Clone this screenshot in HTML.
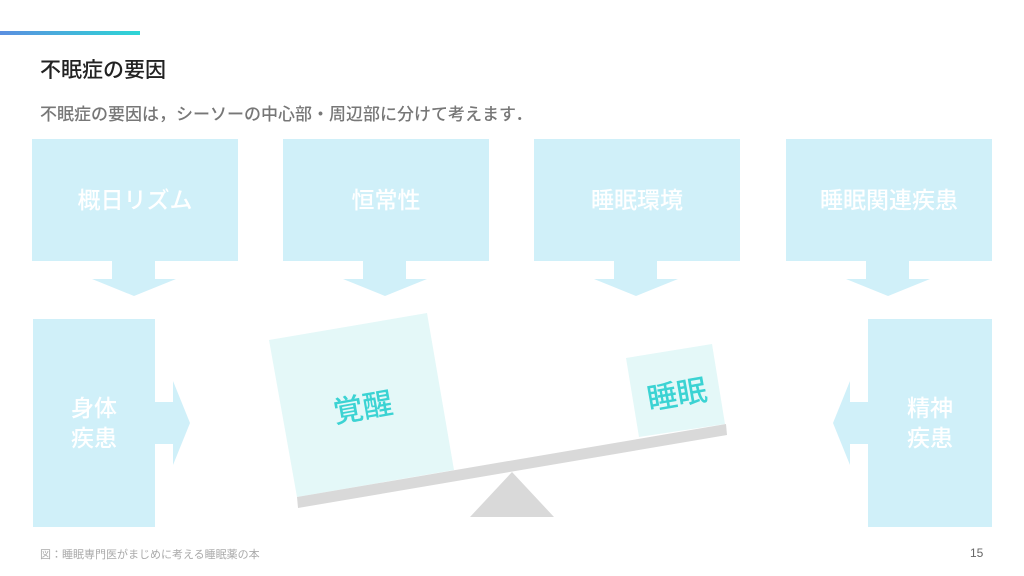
<!DOCTYPE html>
<html><head><meta charset="utf-8"><style>
body{margin:0;width:1024px;height:576px;background:#fff;position:relative;overflow:hidden;font-family:"Liberation Sans","Noto Sans CJK JP",sans-serif}
.a{position:absolute}
.box{position:absolute;background:#d0f0f9;color:#fff;font-weight:500;font-size:23px;display:flex;align-items:center;justify-content:center;text-align:center;line-height:30px}
</style></head><body>
<div class="a" style="left:0;top:31px;width:140px;height:4px;background:linear-gradient(90deg,#5b8fe0,#2dd6d6)"></div>
<div class="a" style="left:40px;top:54px;font-size:21px;font-weight:500;color:#222">不眠症の要因</div>
<div class="a" style="left:40px;top:100px;font-size:17px;font-weight:500;color:#777">不眠症の要因は，シーソーの中心部・周辺部に分けて考えます．</div>
<div class="box" style="left:32px;top:139px;width:206px;height:122px">概日リズム</div>
<div class="box" style="left:283px;top:139px;width:206px;height:122px">恒常性</div>
<div class="box" style="left:534px;top:139px;width:206px;height:122px">睡眠環境</div>
<div class="box" style="left:786px;top:139px;width:206px;height:122px">睡眠関連疾患</div>
<div class="box" style="left:33px;top:319px;width:122px;height:208px">身体<br>疾患</div>
<div class="box" style="left:868px;top:319px;width:124px;height:208px">精神<br>疾患</div>
<svg class="a" style="left:0;top:0" width="1024" height="576">
<g fill="#d0f0f9">
<polygon points="112,261 155,261 155,279 176,279 134,296 92,279 112,279"/>
<polygon points="363,261 406,261 406,279 427,279 385,296 343,279 363,279"/>
<polygon points="614,261 657,261 657,279 678,279 636,296 594,279 614,279"/>
<polygon points="866,261 909,261 909,279 930,279 888,296 846,279 866,279"/>
<polygon points="155,402 173,402 173,381 190,423 173,465 173,444 155,444"/>
<polygon points="868,402 850,402 850,381 833,423 850,465 850,444 868,444"/>
</g>
<polygon points="269,340 427,313 454,470 297,497" fill="#e4f8f8"/>
<polygon points="626,358 712,344 725,424 639,437" fill="#e4f8f8"/>
<polygon points="297,497 726,424 727,435 298,508" fill="#d9d9d9"/>
<polygon points="512,472 554,517 470,517" fill="#d9d9d9"/>
<text x="363" y="418" font-size="30" font-weight="500" fill="#3bd3d3" text-anchor="middle" transform="rotate(-10 363 408)" font-family="Liberation Sans, Noto Sans CJK JP, sans-serif">覚醒</text>
<text x="677" y="405" font-size="30" font-weight="500" fill="#3bd3d3" text-anchor="middle" transform="rotate(-10 677 395)" font-family="Liberation Sans, Noto Sans CJK JP, sans-serif">睡眠</text>
</svg>
<div class="a" style="left:40px;top:546px;font-size:11px;color:#aaa">図：睡眠専門医がまじめに考える睡眠薬の本</div>
<div class="a" style="left:970px;top:546px;font-size:12px;color:#666">15</div>
</body></html>
